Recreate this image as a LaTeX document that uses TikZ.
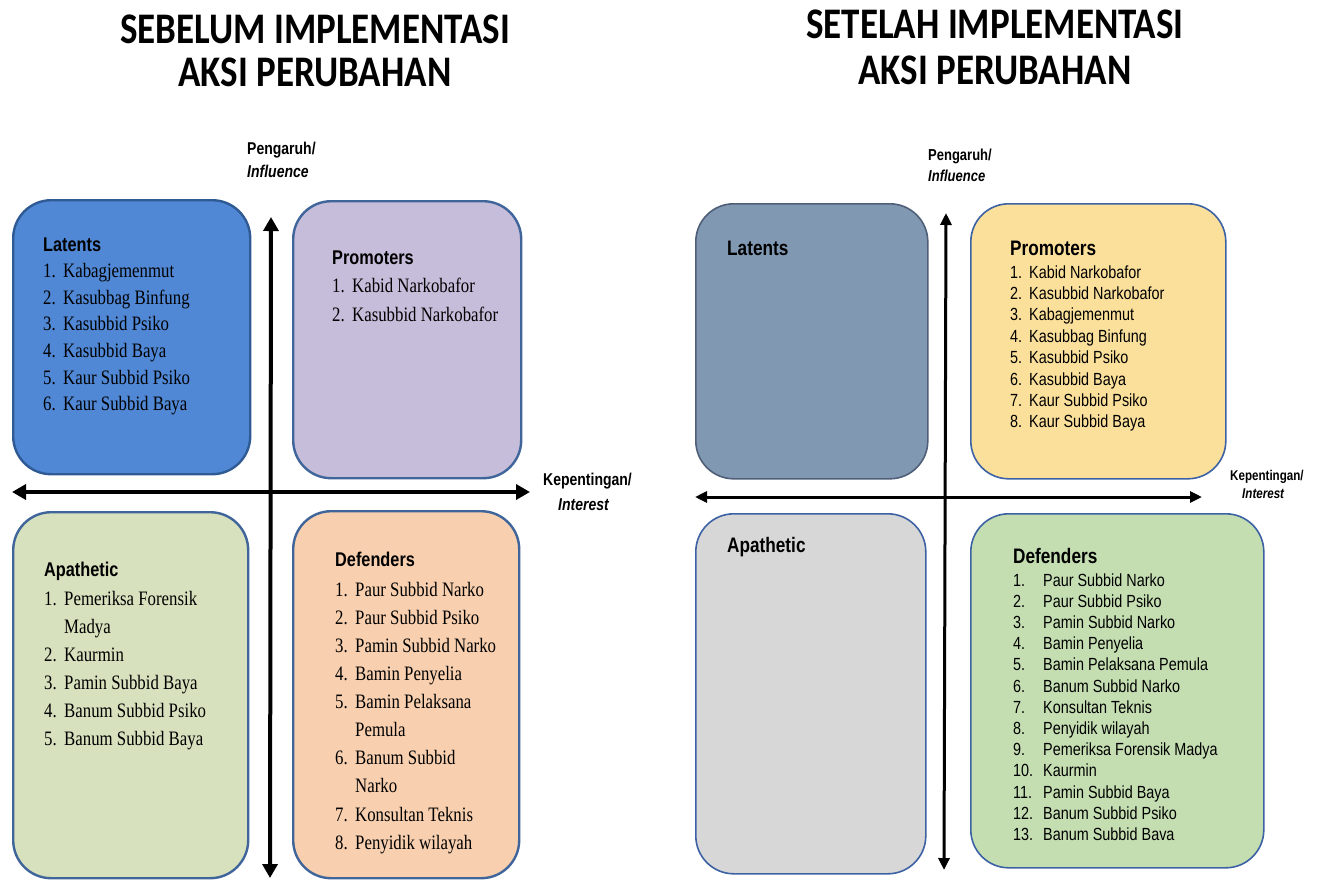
\documentclass[tikz,border=0pt]{standalone}
\usepackage{fontspec}
\setmainfont{Liberation Serif}
\newfontfamily\arialf{Liberation Sans}
\newfontfamily\calf{Carlito}
\usetikzlibrary{arrows.meta}
\definecolor{latLfill}{HTML}{5088D6}
\definecolor{latLdraw}{HTML}{2F5A93}
\definecolor{proLfill}{HTML}{C6BDDA}
\definecolor{apaLfill}{HTML}{D8E1BD}
\definecolor{defLfill}{HTML}{F9D0AF}
\definecolor{qLdraw}{HTML}{3F659A}
\definecolor{latRfill}{HTML}{8198B3}
\definecolor{latRdraw}{HTML}{4F5F78}
\definecolor{proRfill}{HTML}{FBE09B}
\definecolor{apaRfill}{HTML}{D7D7D7}
\definecolor{defRfill}{HTML}{C4DEB2}
\definecolor{qRdraw}{HTML}{3C62A4}
\newcommand{\vstr}[2][1.22]{\scalebox{1}[#1]{#2}}
\begin{document}
\begin{tikzpicture}[x=1pt,y=-1pt,
  quadL/.style={draw=qLdraw, line width=2.4pt, rounded corners=38pt, anchor=north west, inner sep=0pt},
  quadR/.style={draw=qRdraw, line width=1.6pt, rounded corners=38pt, anchor=north west, inner sep=0pt},
  titletext/.style={inner sep=0pt, anchor=base, font=\calf\bfseries\fontsize{37}{40}\selectfont},
  headL/.style={inner sep=0pt, anchor=base west, font=\arialf\bfseries\fontsize{16.3}{18}\selectfont},
  headR/.style={inner sep=0pt, anchor=base west, font=\arialf\bfseries\fontsize{17.2}{19}\selectfont},
  itemL/.style={inner sep=0pt, anchor=base west, font=\fontsize{16.8}{20}\selectfont},
  itemR/.style={inner sep=0pt, anchor=base west, font=\arialf\fontsize{14.4}{17}\selectfont},
  axlab/.style={inner sep=0pt, anchor=base west, font=\arialf\bfseries\fontsize{14}{16}\selectfont},
  axlabR/.style={inner sep=0pt, anchor=base west, font=\arialf\bfseries\fontsize{13}{15}\selectfont},
  axisL/.style={line width=4pt, {Triangle[length=14pt,width=15pt]}-{Triangle[length=14pt,width=15pt]}},
  axisR/.style={line width=3pt, {Triangle[length=12pt,width=11pt]}-{Triangle[length=12pt,width=11pt]}}
]
\useasboundingbox[fill=white] (0,0) rectangle (1326,879);

% ---------- titles ----------
\node[titletext] (t1a) at (315,43) {\vstr[1.18]{SEBELUM IMPLEMENTASI}};
\node[titletext] (t1b) at (315,86) {\vstr[1.18]{AKSI PERUBAHAN}};
\node[titletext] (t2a) at (995,38) {\vstr[1.18]{SETELAH IMPLEMENTASI}};
\node[titletext] (t2b) at (995,84) {\vstr[1.18]{AKSI PERUBAHAN}};

% ---------- left quadrants ----------
\node[quadL, draw=latLdraw, fill=latLfill, minimum width=237pt, minimum height=274pt] (latL) at (12,199) {};
\node[quadL, fill=proLfill, minimum width=228pt, minimum height=277pt] (proL) at (292,200) {};
\node[quadL, fill=apaLfill, minimum width=235pt, minimum height=366pt] (apaL) at (12,511) {};
\node[quadL, fill=defLfill, minimum width=226pt, minimum height=367pt] (defL) at (292,510) {};

% left axes
\coordinate (lh1) at (12,492);
\coordinate (lh2) at (530,492);
\coordinate (lv1) at (271,217);
\coordinate (lv2) at (270,878);
\draw[axisL] (lh1) -- (lh2);
\draw[axisL] (lv1) -- (lv2);
\node[axlab] (lyl1) at (247,154) {\vstr{Pengaruh/}};
\node[axlab] (lyl2) at (247,177) {\vstr{\itshape Influence}};
\node[axlab] (lxl1) at (543,485) {\vstr{Kepentingan/}};
\node[axlab] (lxl2) at (558,510) {\vstr{\itshape Interest}};

% left texts
\node[headL] (latLh) at (43,251) {\vstr{Latents}};
\foreach \n/\t/\yy [count=\i] in {1./Kabagjemenmut/277, 2./Kasubbag Binfung/304, 3./Kasubbid Psiko/330.5, 4./Kasubbid Baya/357.5, 5./Kaur Subbid Psiko/384, 6./Kaur Subbid Baya/410.5} {
  \node[itemL] (latLn\i) at (43,\yy) {\vstr{\n}};
  \node[itemL] (latLt\i) at (63,\yy) {\vstr{\t}};
}
\node[headL] (proLh) at (332,264) {\vstr{Promoters}};
\foreach \n/\t/\yy [count=\i] in {1./Kabid Narkobafor/292.5, 2./Kasubbid Narkobafor/321} {
  \node[itemL] (proLn\i) at (332,\yy) {\vstr{\n}};
  \node[itemL] (proLt\i) at (352,\yy) {\vstr{\t}};
}
\node[headL] (apaLh) at (44,576) {\vstr{Apathetic}};
\foreach \n/\t/\yy [count=\i] in {1./Pemeriksa Forensik/605, {}/Madya/633, 2./Kaurmin/661, 3./Pamin Subbid Baya/689, 4./Banum Subbid Psiko/717.5, 5./Banum Subbid Baya/745.5} {
  \node[itemL] (apaLn\i) at (44,\yy) {\vstr{\n}};
  \node[itemL] (apaLt\i) at (64,\yy) {\vstr{\t}};
}
\node[headL] (defLh) at (335,566.5) {\vstr{Defenders}};
\foreach \n/\t/\yy [count=\i] in {1./Paur Subbid Narko/596, 2./Paur Subbid Psiko/624, 3./Pamin Subbid Narko/652, 4./Bamin Penyelia/680, 5./Bamin Pelaksana/708, {}/Pemula/736, 6./Banum Subbid/764, {}/Narko/792, 7./Konsultan Teknis/821, 8./Penyidik wilayah/849} {
  \node[itemL] (defLn\i) at (335,\yy) {\vstr{\n}};
  \node[itemL] (defLt\i) at (355,\yy) {\vstr{\t}};
}

% ---------- right quadrants ----------
\node[quadR, draw=latRdraw, fill=latRfill, minimum width=232pt, minimum height=275pt] (latR) at (695,203) {};
\node[quadR, fill=proRfill, minimum width=255pt, minimum height=275pt] (proR) at (970,203) {};
\node[quadR, fill=apaRfill, minimum width=230pt, minimum height=360pt] (apaR) at (695,513) {};
\node[quadR, fill=defRfill, minimum width=293pt, minimum height=354pt] (defR) at (970,513) {};

% right axes
\coordinate (rh1) at (695,497);
\coordinate (rh2) at (1202,497);
\coordinate (rv1) at (946,213);
\coordinate (rv2) at (944,870);
\draw[axisR] (rh1) -- (rh2);
\draw[axisR] (rv1) -- (rv2);
\node[axlabR] (ryl1) at (928,160) {\vstr{Pengaruh/}};
\node[axlabR] (ryl2) at (928,181) {\vstr{\itshape Influence}};
\node[axlabR, font=\arialf\bfseries\fontsize{11.6}{14}\selectfont] (rxl1) at (1230,480) {\vstr{Kepentingan/}};
\node[axlabR, font=\arialf\bfseries\fontsize{11.6}{14}\selectfont] (rxl2) at (1242,498) {\vstr{\itshape Interest}};

% right texts
\node[headR] (latRh) at (727,255) {\vstr{Latents}};
\node[headR] (apaRh) at (727,552) {\vstr{Apathetic}};
\node[headR] (proRh) at (1010,255) {\vstr{Promoters}};
\foreach \n/\t [count=\i] in {1./Kabid Narkobafor, 2./Kasubbid Narkobafor, 3./Kabagjemenmut, 4./Kasubbag Binfung, 5./Kasubbid Psiko, 6./Kasubbid Baya, 7./Kaur Subbid Psiko, 8./Kaur Subbid Baya} {
  \node[itemR] (proRn\i) at (1010,{278+21.4*(\i-1)}) {\vstr{\n}};
  \node[itemR] (proRt\i) at (1029,{278+21.4*(\i-1)}) {\vstr{\t}};
}
\node[headR] (defRh) at (1013,563) {\vstr{Defenders}};
\foreach \n/\t [count=\i] in {1./Paur Subbid Narko, 2./Paur Subbid Psiko, 3./Pamin Subbid Narko, 4./Bamin Penyelia, 5./Bamin Pelaksana Pemula, 6./Banum Subbid Narko, 7./Konsultan Teknis, 8./Penyidik wilayah, 9./Pemeriksa Forensik Madya, 10./Kaurmin, 11./Pamin Subbid Baya, 12./Banum Subbid Psiko, 13./Banum Subbid Bava} {
  \node[itemR] (defRn\i) at (1013,{586+21.2*(\i-1)}) {\vstr{\n}};
  \node[itemR] (defRt\i) at (1043,{586+21.2*(\i-1)}) {\vstr{\t}};
}
\end{tikzpicture}
\end{document}
